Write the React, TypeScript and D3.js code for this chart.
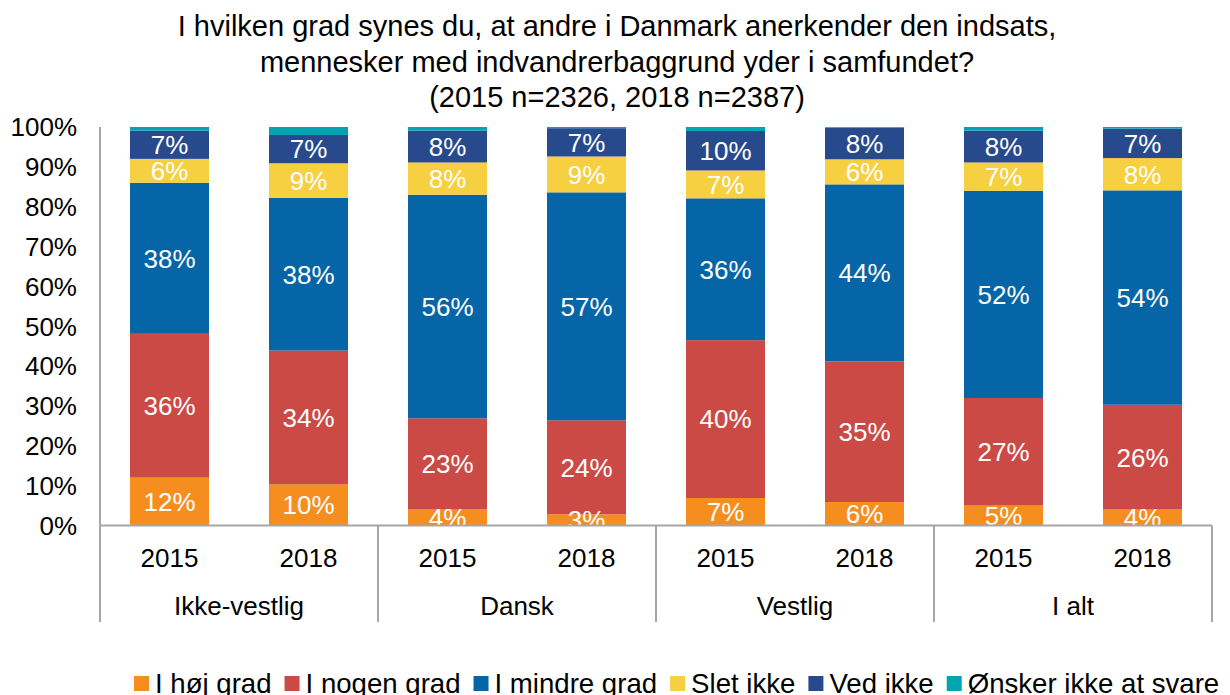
import React, { useEffect, useRef } from "react";
import * as d3 from "d3";

const years = ["2015", "2018", "2015", "2018", "2015", "2018", "2015", "2018"];
const groups = ["Ikke-vestlig", "Dansk", "Vestlig", "I alt"];
const seriesNames = ["I høj grad", "I nogen grad", "I mindre grad", "Slet ikke", "Ved ikke", "Ønsker ikke at svare"];
const seriesColors = ["#F68E1F", "#CB4A45", "#0565A6", "#F6D040", "#274A8D", "#02A5AF"];

const hoejGrad = [12.0, 10.3, 4.0, 2.8, 6.9, 5.9, 5.0, 4.0];
const nogenGrad = [36.1, 33.6, 22.9, 23.6, 39.6, 35.3, 27.0, 26.3];
const mindreGrad = [37.9, 38.3, 56.1, 57.2, 35.6, 44.4, 52.0, 53.8];
const sletIkke = [6.0, 8.7, 8.1, 9.0, 7.0, 6.3, 7.1, 8.1];
const vedIkke = [7.1, 7.1, 8.0, 7.1, 9.9, 7.9, 8.0, 7.4];
const oenskerIkke = [0.9, 2.0, 0.9, 0.3, 1.0, 0.2, 0.9, 0.4];

const yTicks = [0, 10, 20, 30, 40, 50, 60, 70, 80, 90, 100];
const titleLines = [
  "I hvilken grad synes du, at andre i Danmark anerkender den indsats,",
  "mennesker med indvandrerbaggrund yder i samfundet?",
  "(2015 n=2326, 2018 n=2387)",
];

const W = 1230;
const H = 695;
const FONT = "'Liberation Sans', Arial, Helvetica, sans-serif";

export default function App() {
  const legendRef = useRef<SVGGElement>(null);

  const left = 100;
  const right = 1212;
  const top = 127;
  const bottom = 525.5;

  const allSeries = [hoejGrad, nogenGrad, mindreGrad, sletIkke, vedIkke, oenskerIkke];
  const table = years.map((yr, i) => {
    const row: any = { idx: i, year: yr };
    seriesNames.forEach((s, k) => (row[s] = allSeries[k][i]));
    return row;
  });
  const stacked = d3.stack<any>().keys(seriesNames)(table);

  const x = d3.scaleBand<number>().domain(d3.range(years.length)).range([left, right]).paddingInner(0.4317).paddingOuter(0.2158);
  const y = d3.scaleLinear().domain([0, 100]).range([bottom, top]);
  const groupX = d3.scaleBand<number>().domain(d3.range(groups.length)).range([left, right]);

  useEffect(() => {
    const g = d3.select(legendRef.current);
    if (!g.node()) return;
    let cx = 134;
    g.selectAll("g.item").each(function () {
      const item = d3.select(this as SVGGElement);
      item.attr("transform", `translate(${cx},0)`);
      const t = item.select("text").node() as SVGTextElement;
      const w = t.getComputedTextLength();
      cx += 21 + w + 13;
    });
  }, []);

  return (
    <svg width={W} height={H} style={{ position: "absolute", left: 0, top: 0, display: "block", background: "#fff" }} fontFamily={FONT}>
      <defs>
        <clipPath id="plotClip">
          <rect x={left} y={0} width={right - left} height={bottom} />
        </clipPath>
      </defs>
      <text x={617} y={36} textAnchor="middle" fontSize={29} fill="#000">
        {titleLines.map((l, i) => (
          <tspan key={i} x={617} y={36 + i * 35.7}>
            {l}
          </tspan>
        ))}
      </text>

      {stacked.map((s, k) => (
        <g key={s.key} fill={seriesColors[k]}>
          {s.map((d, i) => (
            <rect key={i} x={x(i)} width={x.bandwidth()} y={y(d[1])} height={y(d[0]) - y(d[1])} />
          ))}
        </g>
      ))}

      <g clipPath="url(#plotClip)">
        {stacked.slice(0, 5).map((s) =>
          s.map((d, i) => (
            <text
              key={s.key + i}
              x={(x(i) as number) + x.bandwidth() / 2}
              y={(y(d[0]) + y(d[1])) / 2}
              dy="0.36em"
              textAnchor="middle"
              fontSize={26}
              fill="#fff"
            >
              {Math.round(d[1] - d[0]) + "%"}
            </text>
          ))
        )}
      </g>

      <line x1={left} x2={left} y1={top} y2={bottom} stroke="#A6A6A6" strokeWidth={2} />
      <line x1={left} x2={right} y1={bottom} y2={bottom} stroke="#A6A6A6" strokeWidth={2} />
      {d3.range(groups.length + 1).map((i) => {
        const gx = i < groups.length ? (groupX(i) as number) : right;
        return <line key={i} x1={gx} x2={gx} y1={bottom} y2={622} stroke="#A6A6A6" strokeWidth={2} />;
      })}

      {yTicks.map((t) => (
        <text key={t} x={77} y={y(t)} dy="0.36em" textAnchor="end" fontSize={26} fill="#000">
          {t + "%"}
        </text>
      ))}

      {years.map((yr, i) => (
        <text key={i} x={(x(i) as number) + x.bandwidth() / 2} y={567} textAnchor="middle" fontSize={26} fill="#000">
          {yr}
        </text>
      ))}
      {groups.map((gname, i) => (
        <text key={gname} x={(groupX(i) as number) + groupX.bandwidth() / 2} y={615} textAnchor="middle" fontSize={26} fill="#000">
          {gname}
        </text>
      ))}

      <g ref={legendRef}>
        {seriesNames.map((s, k) => (
          <g className="item" key={s}>
            <rect x={0} y={676} width={15} height={15} fill={seriesColors[k]} />
            <text x={21} y={693} fontSize={27.6} fill="#000">
              {s}
            </text>
          </g>
        ))}
      </g>
    </svg>
  );
}
